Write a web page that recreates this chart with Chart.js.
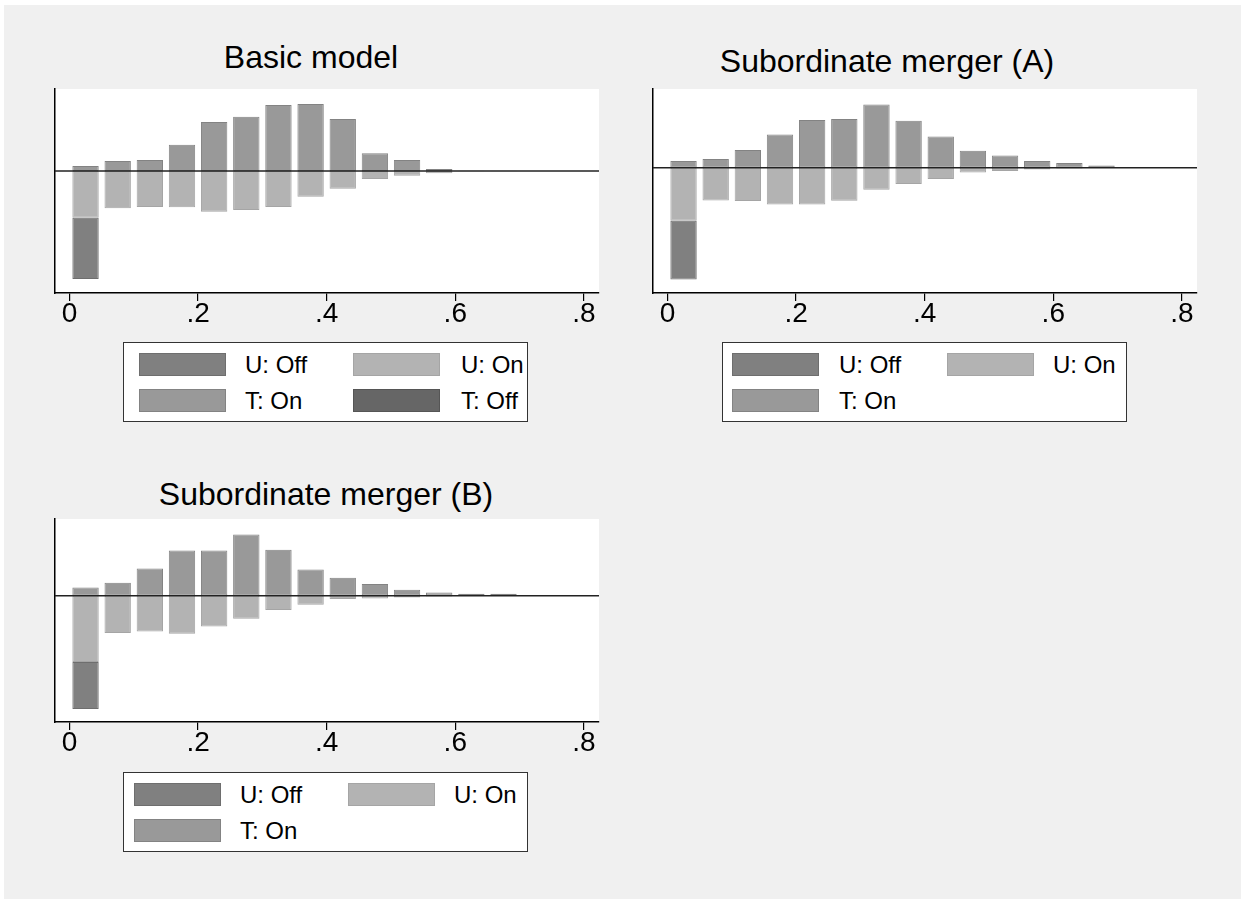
<!DOCTYPE html>
<html>
<head>
<meta charset="utf-8">
<script src="https://cdn.jsdelivr.net/npm/chart.js@4.4.1/dist/chart.umd.min.js"></script>
<style>
  body { margin: 0; background: #fff; width: 1243px; height: 903px; position: relative; overflow: hidden;
         font-family: "Liberation Sans", Arial, Helvetica, sans-serif; }
  .bg { position: absolute; left: 4px; top: 5px; width: 1237px; height: 894px; background: #f0f0f0; }
  .title { position: absolute; font-size: 32px; line-height: 32px; white-space: nowrap; transform: translateX(-50%); color: #000; }
  canvas { position: absolute; }
  .legend { position: absolute; width: 403px; height: 78px; background: #fff; border: 1.5px solid #333; }
  .sw { position: absolute; width: 87px; height: 23px; box-sizing: border-box; border: 1px solid; }
  .lt { position: absolute; font-size: 24px; line-height: 24px; white-space: nowrap; color: #000; }
</style>
</head>
<body>
<div class="bg"></div>

<div class="title" style="left:311px; top:41px;">Basic model</div>
<div class="title" style="left:887px; top:45px;">Subordinate merger (A)</div>
<div class="title" style="left:326px; top:478px;">Subordinate merger (B)</div>

<canvas id="chart1" width="565" height="264" style="left:45px; top:79px;"></canvas>
<canvas id="chart2" width="565" height="264" style="left:643px; top:79px;"></canvas>
<canvas id="chart3" width="565" height="263" style="left:45px; top:509px;"></canvas>

<div class="legend" id="legend1" style="left:123px; top:342px;"></div>
<div class="legend" id="legend2" style="left:722px; top:342px;"></div>
<div class="legend" id="legend3" style="left:123px; top:772px;"></div>

<script>
// bin centres (share)
const bins1 = [0.025, 0.075, 0.125, 0.175, 0.225, 0.275, 0.325, 0.375, 0.425, 0.475, 0.525, 0.575, 0.625, 0.675];
const bins2 = [0.025, 0.075, 0.125, 0.175, 0.225, 0.275, 0.325, 0.375, 0.425, 0.475, 0.525, 0.575, 0.625, 0.675, 0.725];
const bins3 = [0.025, 0.075, 0.125, 0.175, 0.225, 0.275, 0.325, 0.375, 0.425, 0.475, 0.525, 0.575, 0.625, 0.675, 0.725];

const xTicks = [0, 0.2, 0.4, 0.6, 0.8];
const xTickLabels = ["0", ".2", ".4", ".6", ".8"];

// Basic model
const tOn1 = [5.0, 10.0, 11.0, 26.3, 49.0, 54.3, 66.0, 67.0, 52.0, 17.7, 11.0, 2.0, 0.3, 0.3];
const uOn1 = [-46.7, -37.3, -36.0, -36.3, -40.7, -39.0, -36.0, -25.7, -17.7, -8.0, -4.7, -2.3, -0.3, -0.2];
const uOff1 = [-61.3, 0, 0, 0, 0, 0, 0, 0, 0, 0, 0, 0, 0, 0];
const tOff1 = [0, 0, 0, 0, 0, 0, 0, 0, 0, 0, 0, 0, 0, 0];

// Subordinate merger (A)
const tOn2 = [6.7, 8.7, 17.7, 33.3, 47.7, 48.7, 63.3, 47.0, 31.3, 17.0, 12.3, 6.7, 4.7, 2.3, 0.3];
const uOn2 = [-53.0, -32.7, -33.3, -36.7, -36.7, -33.0, -22.0, -16.3, -11.3, -4.7, -3.3, -1.7, -0.7, -0.3, -0.3];
const uOff2 = [-58.7, 0, 0, 0, 0, 0, 0, 0, 0, 0, 0, 0, 0, 0, 0];

// Subordinate merger (B)
const tOn3 = [8.3, 13.0, 27.3, 45.3, 45.3, 61.3, 46.0, 26.3, 18.0, 11.7, 6.0, 3.3, 2.0, 2.0, 0.3];
const uOn3 = [-66.3, -37.3, -35.7, -38.0, -30.7, -23.0, -14.3, -9.0, -3.3, -2.7, -1.7, -0.7, -0.3, -0.3, -0.3];
const uOff3 = [-47.0, 0, 0, 0, 0, 0, 0, 0, 0, 0, 0, 0, 0, 0, 0];

const styles = {
    "U: Off": { fill: "#808080", line: "#6e6e6e" },
    "U: On": { fill: "#b3b3b3", line: "#a5a5a5" },
    "T: On": { fill: "#999999", line: "#838383" },
    "T: Off": { fill: "#666666", line: "#555555" }
};

const FONT = "'Liberation Sans', Arial, Helvetica, sans-serif";

// white plot region + zero line
const plotBg = {
    id: "plotBg",
    beforeDraw: (chart) => {
        const a = chart.chartArea;
        chart.ctx.save();
        chart.ctx.fillStyle = "#fff";
        chart.ctx.fillRect(a.left, a.top, a.right - a.left, a.bottom - a.top);
        chart.ctx.restore();
    },
    afterDatasetsDraw: (chart) => {
        const a = chart.chartArea;
        const y0 = chart.scales.y.getPixelForValue(0);
        const ctx = chart.ctx;
        ctx.save();
        ctx.strokeStyle = "#222";
        ctx.lineWidth = 1.5;
        ctx.beginPath();
        ctx.moveTo(a.left, y0);
        ctx.lineTo(a.right, y0);
        ctx.stroke();
        ctx.restore();
    }
};

const makeSet = (label, bins, vals) => ({
    label: label,
    data: bins.map((b, i) => ({ x: b, y: vals[i] })),
    backgroundColor: styles[label].fill,
    borderColor: styles[label].line,
    borderWidth: label === "T: Off" ? 0 : 1,
    borderSkipped: false,
    barPercentage: 0.82,
    categoryPercentage: 1.0,
    stack: "s"
});

const makeChart = (id, sets, yMin, yMax) => {
    const ctx = document.getElementById(id).getContext("2d");
    return new Chart(ctx, {
        type: "bar",
        data: { datasets: sets },
        options: {
            responsive: false,
            animation: false,
            layout: { padding: { left: 10, top: 10, right: 11, bottom: 0 } },
            plugins: { legend: { display: false }, tooltip: { enabled: false }, title: { display: false } },
            scales: {
                x: {
                    type: "linear",
                    stacked: true,
                    offset: false,
                    min: -0.0225,
                    max: 0.8235,
                    afterBuildTicks: (scale) => { scale.ticks = xTicks.map(v => ({ value: v })); },
                    afterFit: (scale) => { scale.height = 50; },
                    ticks: {
                        autoSkip: false,
                        maxRotation: 0,
                        padding: -4,
                        color: "#000",
                        font: { family: FONT, size: 28 },
                        callback: (v, i) => xTickLabels[i]
                    },
                    grid: { offset: false, drawOnChartArea: false, drawTicks: true, tickLength: 8, color: "#000", lineWidth: 1.2 },
                    border: { display: true, color: "#000", width: 1.5 }
                },
                y: {
                    stacked: true,
                    min: yMin,
                    max: yMax,
                    afterFit: (scale) => { scale.width = 0; },
                    ticks: { display: false },
                    grid: { display: false },
                    border: { display: true, color: "#000", width: 1.5 }
                }
            }
        },
        plugins: [plotBg]
    });
};

makeChart("chart1", [
    makeSet("T: On", bins1, tOn1),
    makeSet("U: On", bins1, uOn1),
    makeSet("U: Off", bins1, uOff1),
    makeSet("T: Off", bins1, tOff1)
], -122, 82);

makeChart("chart2", [
    makeSet("T: On", bins2, tOn2),
    makeSet("U: On", bins2, uOn2),
    makeSet("U: Off", bins2, uOff2)
], -125.3, 78.7);

makeChart("chart3", [
    makeSet("T: On", bins3, tOn3),
    makeSet("U: On", bins3, uOn3),
    makeSet("U: Off", bins3, uOff3)
], -126.3, 76.7);

// legends: two columns, row-major
const buildLegend = (id, labels, swX, txtX) => {
    const box = document.getElementById(id);
    labels.forEach((lab, i) => {
        const col = i % 2;
        const row = Math.floor(i / 2);
        const sw = document.createElement("div");
        sw.className = "sw";
        sw.style.left = swX[col] + "px";
        sw.style.top = (10 + row * 35.5) + "px";
        sw.style.background = styles[lab].fill;
        sw.style.borderColor = styles[lab].line;
        box.appendChild(sw);
        const t = document.createElement("div");
        t.className = "lt";
        t.textContent = lab;
        t.style.left = txtX[col] + "px";
        t.style.top = (10 + row * 35.5) + "px";
        box.appendChild(t);
    });
};

buildLegend("legend1", ["U: Off", "U: On", "T: On", "T: Off"], [15, 229], [121, 337]);
buildLegend("legend2", ["U: Off", "U: On", "T: On"], [9, 224], [116, 330]);
buildLegend("legend3", ["U: Off", "U: On", "T: On"], [10, 224], [116, 330]);
</script>
</body>
</html>
